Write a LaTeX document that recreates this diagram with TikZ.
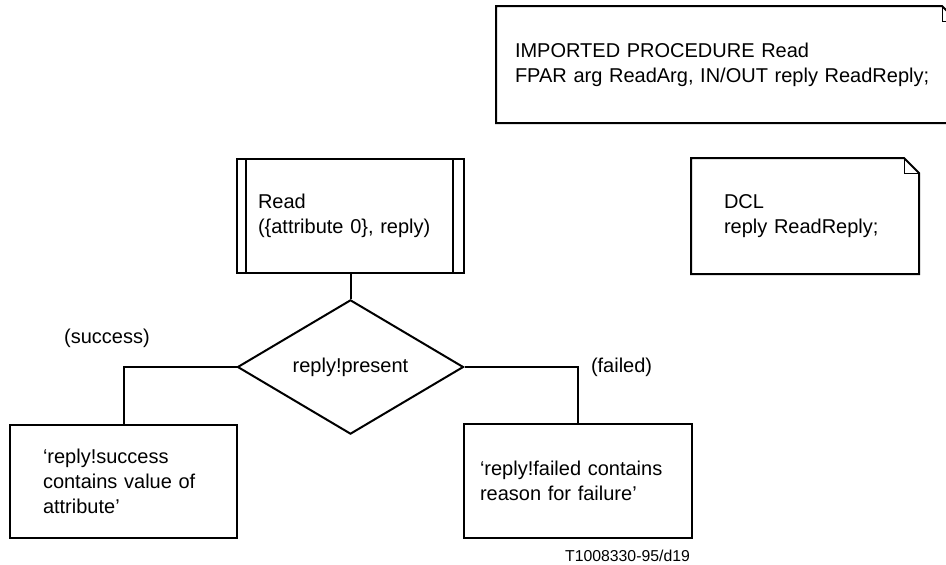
\documentclass[tikz,border=0pt]{standalone}
\usepackage{fontspec}
\setmainfont{Liberation Sans}
\usetikzlibrary{shapes,calc}

\begin{document}
\begin{tikzpicture}[x=1pt,y=-1pt,line width=2pt,
                    box/.style={draw,rectangle,align=left,inner ysep=0pt,font=\fontsize{20}{25}\selectfont},
                    note/.style={rectangle,align=left,inner ysep=0pt,font=\fontsize{20}{25}\selectfont},
                    decision/.style={draw,diamond,inner sep=0pt,minimum width=226pt,minimum height=134pt,font=\fontsize{20}{25}\selectfont},
                    plain/.style={inner sep=0pt,font=\fontsize{20}{25}\selectfont},
                    fold/.style={line width=1pt}]

  \useasboundingbox (0,0) rectangle (946,565);

  % procedure call and decision
  \node[box,minimum width=227pt,minimum height=114pt,text width=185pt,inner xsep=21pt] (read) at (350.5,216) {Read\\(\{attribute 0\}, reply)};
  \draw[line width=2.5pt] ([xshift=10]read.north west) -- ([xshift=10]read.south west)
                          ([xshift=-12]read.north east) -- ([xshift=-12]read.south east);
  \node[decision] (cond) at (350.5,367) {reply!present};

  \node[box,minimum width=227pt,minimum height=113pt,text width=161pt,inner xsep=33pt] (okbox) at (123.5,481.5) {‘reply!success\\contains value of\\attribute’};
  \node[box,minimum width=228pt,minimum height=114pt,text width=196pt,inner xsep=16pt] (failbox) at (578,481) {‘reply!failed contains\\reason for failure’};

  \draw (read.south) -- (cond.north);
  \draw (cond.west) -| (okbox.north);
  \draw (cond.east) -| (failbox.north);

  \node[plain,anchor=base] (succ) at (107,343) {(success)};
  \node[plain,anchor=base west] (fail) at (590,372) {(failed)};

  % text symbols
  \node[note,minimum width=226pt,minimum height=114pt,text width=162pt,inner xsep=32pt] (dcl) at (805,216) {DCL\\reply ReadReply;};
  \draw (dcl.north west) -- ([xshift=-15]dcl.north east) -- ([yshift=-15]dcl.north east) -- (dcl.south east) -- (dcl.south west) -- cycle;
  \draw[fold] ([xshift=-15]dcl.north east) -- ([xshift=-15,yshift=-15]dcl.north east) -- ([yshift=-15]dcl.north east);

  \node[note,minimum width=459pt,minimum height=115pt,text width=423pt,inner xsep=18pt] (imported) at (726.5,64.5) {IMPORTED PROCEDURE Read\\FPAR arg ReadArg, IN/OUT reply ReadReply;};
  \begin{scope}
    \clip (0,0) rectangle (946,565);
    \draw (imported.north west) -- ([xshift=-15]imported.north east) -- ([yshift=-15]imported.north east) -- (imported.south east) -- (imported.south west) -- cycle;
    \draw[fold] ([xshift=-15]imported.north east) -- ([xshift=-15,yshift=-15]imported.north east) -- ([yshift=-15]imported.north east);
  \end{scope}

  \node[inner sep=0pt,anchor=base,font=\fontsize{15.8}{19}\selectfont] (figid) at (627.5,561) {T1008330-95/d19};

\end{tikzpicture}
\end{document}
